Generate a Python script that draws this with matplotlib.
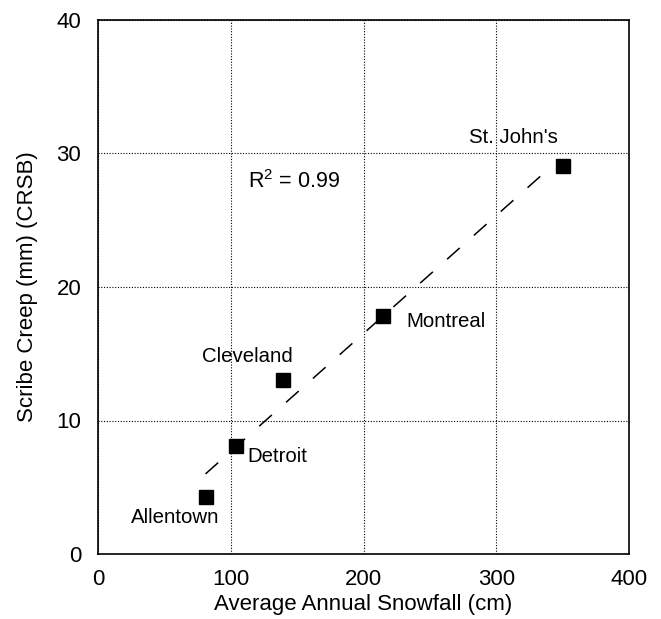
import matplotlib
matplotlib.use("Agg")
import matplotlib.pyplot as plt

cities = ["Allentown", "Detroit", "Cleveland", "Montreal", "St. John's"]
snowfall = [81, 104, 139.5, 215, 350]
creep = [4.3, 8.1, 13.0, 17.8, 29.1]
fit_x = [81, 336.7]
fit_y = [6.0, 28.6]
xticks = [0, 100, 200, 300, 400]
yticks = [0, 10, 20, 30, 40]

plt.rcParams['font.family'] = ['Liberation Sans', 'DejaVu Sans']
plt.rcParams['mathtext.fontset'] = 'custom'
plt.rcParams['mathtext.rm'] = 'Liberation Sans'

fig = plt.figure(figsize=(6.61, 6.19), dpi=100)
ax = fig.add_axes([98 / 661, (619 - 554) / 619, 531 / 661, 534 / 619])

ax.plot(fit_x, fit_y, color='black', linestyle=(0, (11.1, 12.4)), linewidth=1.1, zorder=2)
ax.plot(snowfall, creep, 's', color='black', markersize=9.8, zorder=3)

label_pos = {
    "Allentown": (58, 2.7, 'center'),
    "Detroit": (112.2, 7.34, 'left'),
    "Cleveland": (112.6, 14.76, 'center'),
    "Montreal": (232, 17.45, 'left'),
    "St. John's": (312.6, 31.2, 'center'),
}
for c in cities:
    x, y, ha = label_pos[c]
    ax.text(x, y, c, ha=ha, va='center', fontsize=14.7)

ax.text(113, 27.9, r"R$^\mathrm{2}$ = 0.99", ha='left', va='center', fontsize=15.5)

ax.set_xlim(0, 400)
ax.set_ylim(0, 40)
ax.set_xticks(xticks)
ax.set_yticks(yticks)
ax.tick_params(length=0, labelsize=16)
ax.tick_params(axis='x', pad=11)
ax.tick_params(axis='y', pad=12)
ax.grid(True, color='black', linestyle=(0, (1, 1.5)), linewidth=0.8)
for s in ax.spines.values():
    s.set_linewidth(1.2)
ax.set_xlabel("Average Annual Snowfall (cm)", fontsize=16, labelpad=2.5)
ax.set_ylabel("Scribe Creep (mm) (CRSB)", fontsize=16, labelpad=13)

fig.savefig("out.png", dpi=100)
